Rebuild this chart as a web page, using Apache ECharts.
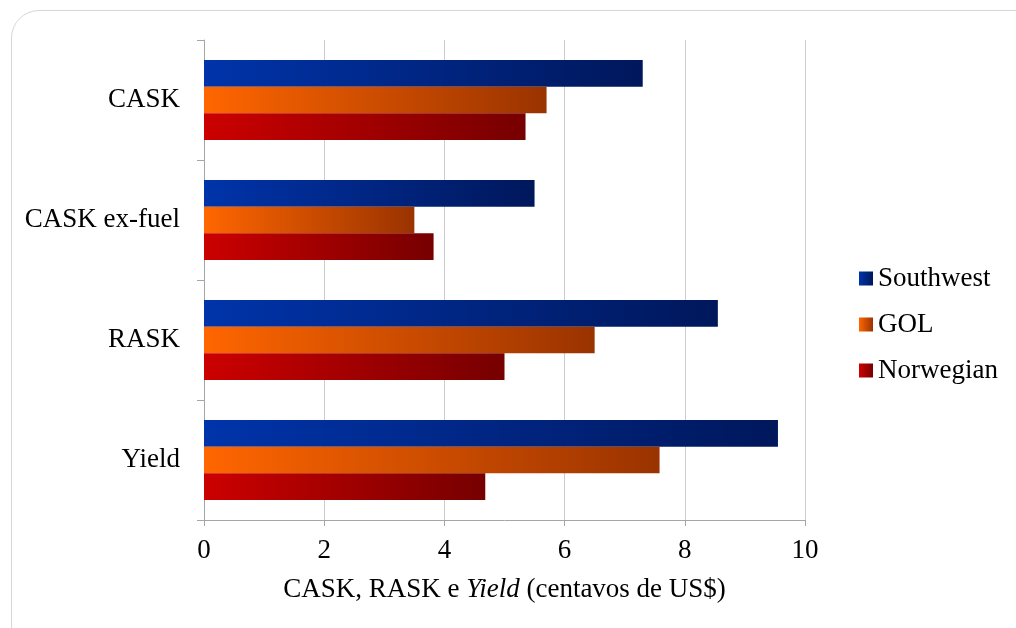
<!DOCTYPE html>
<html>
<head>
<meta charset="utf-8">
<script src="https://cdn.jsdelivr.net/npm/echarts@6/dist/echarts.min.js"></script>
<style>
    html, body { margin: 0; padding: 0; background: #fff; overflow: hidden; }
    #frame {
        position: absolute; left: 11px; top: 10px; width: 1040px; height: 650px;
        border: 1px solid #d6d6d6; border-radius: 28px; box-sizing: border-box;
    }
    #chart { position: absolute; left: 0; top: 0; width: 1016px; height: 628px; }
</style>
</head>
<body>
<div id="frame"></div>
<div id="chart"></div>
<script>
const categories = ["CASK", "CASK ex-fuel", "RASK", "Yield"];
const southwest = [7.3, 5.5, 8.55, 9.55];
const gol = [5.7, 3.5, 6.5, 7.58];
const norwegian = [5.35, 3.82, 5.0, 4.68];
const xTicks = { min: 0, max: 10, interval: 2 };

const font = "Liberation Serif";
const fs = 27;

// gradiente horizontal igual ao Excel
function grad(from, to) {
    return new echarts.graphic.LinearGradient(0, 0, 1, 0, [
        { offset: 0, color: from },
        { offset: 1, color: to }
    ]);
}

const chart = echarts.init(document.getElementById("chart"), null, { renderer: "canvas" });
chart.setOption({
    animation: false,
    textStyle: { fontFamily: font, color: "#000" },
    legend: {
        orient: "vertical",
        left: 859,
        top: 265,
        padding: 0,
        itemWidth: 14,
        itemHeight: 14,
        itemGap: 19,
        icon: "rect",
        textStyle: { fontFamily: font, fontSize: fs, color: "#000" },
        data: ["Southwest", "GOL", "Norwegian"]
    },
    grid: {
        left: 204,
        right: 211,
        top: 40,
        bottom: 108
    },
    xAxis: {
        type: "value",
        min: xTicks.min,
        max: xTicks.max,
        interval: xTicks.interval,
        name: "{n|CASK, RASK e }{i|Yield}{n| (centavos de US$)}",
        nameLocation: "middle",
        nameGap: 56,
        nameTextStyle: {
            rich: {
                n: { fontFamily: font, fontSize: fs, color: "#000" },
                i: { fontFamily: font, fontSize: fs, color: "#000", fontStyle: "italic" }
            }
        },
        axisLine: { show: true, lineStyle: { color: "#a6a6a6", width: 1 } },
        axisTick: { show: true, length: 6, lineStyle: { color: "#a6a6a6" } },
        axisLabel: { fontFamily: font, fontSize: fs, color: "#000", margin: 17 },
        splitLine: { show: true, lineStyle: { color: "#cccccc", width: 1 } }
    },
    yAxis: {
        type: "category",
        inverse: true,
        data: categories,
        axisLine: { show: true, lineStyle: { color: "#a6a6a6", width: 1 } },
        axisTick: { show: true, length: 7, inside: false, lineStyle: { color: "#a6a6a6" } },
        axisLabel: { fontFamily: font, fontSize: fs, color: "#000", margin: 24 }
    },
    series: [
        {
            name: "Southwest",
            type: "bar",
            data: southwest,
            barGap: "0%",
            barCategoryGap: "33.3%",
            itemStyle: { color: grad("#0034aa", "#00175b") }
        },
        {
            name: "GOL",
            type: "bar",
            data: gol,
            barGap: "0%",
            barCategoryGap: "33.3%",
            itemStyle: { color: grad("#ff6600", "#9a3300") }
        },
        {
            name: "Norwegian",
            type: "bar",
            data: norwegian,
            barGap: "0%",
            barCategoryGap: "33.3%",
            itemStyle: { color: grad("#cc0000", "#760000") }
        }
    ]
});
</script>
</body>
</html>
